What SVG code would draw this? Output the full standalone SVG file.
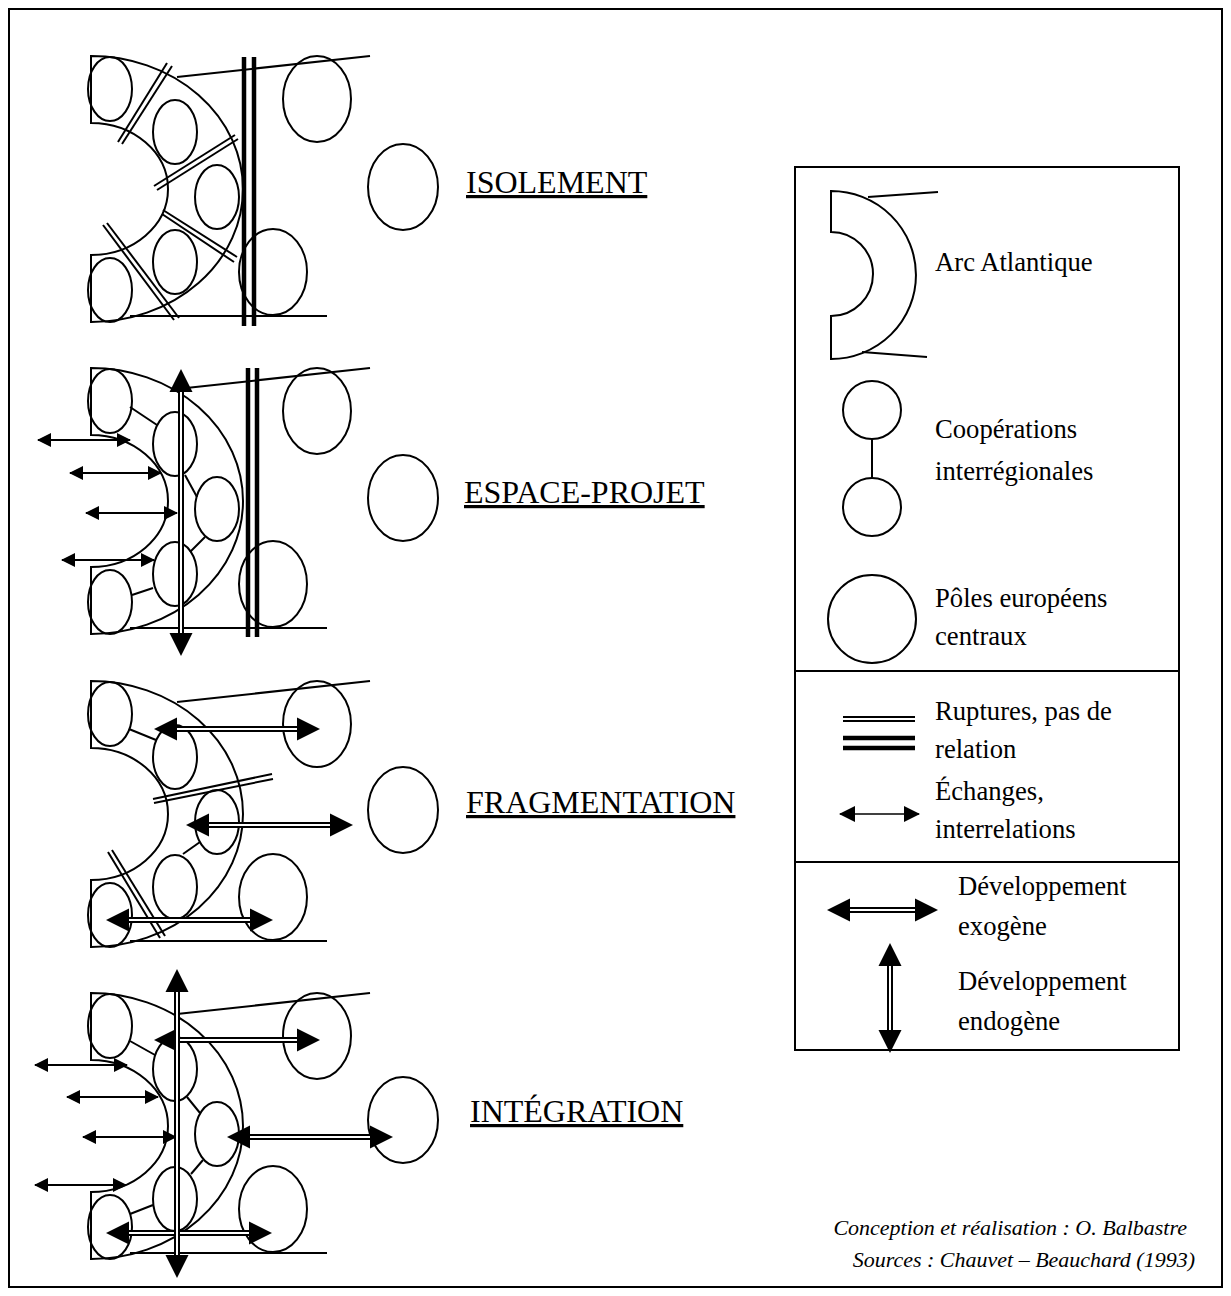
<svg xmlns="http://www.w3.org/2000/svg" width="1231" height="1296" viewBox="0 0 1231 1296">
<style>
.s{fill:none;stroke:#000;stroke-width:2}
.k{fill:none;stroke:#000;stroke-width:4.5}
.ex{fill:none;stroke:#000;stroke-width:2;marker-start:url(#sh);marker-end:url(#sh)}
.dv{fill:none;stroke:#000;stroke-width:6;marker-start:url(#bh);marker-end:url(#bh)}
.dw{fill:none;stroke:#fff;stroke-width:2}
text{font-family:'Liberation Serif','Times New Roman',serif;fill:#000}
.t{font-size:32px;text-decoration:underline}
.l{font-size:26.67px}
.c{font-size:22px;font-style:italic;text-anchor:end}
</style>
<defs>
<marker id="sh" markerUnits="userSpaceOnUse" markerWidth="14" markerHeight="14" refX="13" refY="7" orient="auto-start-reverse" overflow="visible"><path d="M0,0 L14,7 L0,14 Z" fill="#000"/></marker>
<marker id="shL" markerUnits="userSpaceOnUse" markerWidth="16" markerHeight="16" refX="15" refY="8" orient="auto-start-reverse" overflow="visible"><path d="M0,0 L16,8 L0,16 Z" fill="#000"/></marker>
<marker id="bh" markerUnits="userSpaceOnUse" markerWidth="23" markerHeight="23" refX="17" refY="11.5" orient="auto-start-reverse" overflow="visible"><path d="M0,0 L23,11.5 L0,23 Z" fill="#000"/></marker>
<path id="arc" class="s" d="M91,56 L91,123 A77,66 0 0 1 91,255 L91,322 A152,133 0 0 0 91,56 Z"/>
<ellipse id="e" class="s" cx="0" cy="0" rx="22" ry="32"/>
<ellipse id="b" class="s" cx="0" cy="0" rx="34" ry="43"/>
</defs>
<rect x="9" y="9" width="1213" height="1278" class="s"/>

<!-- Panel 1 : ISOLEMENT -->
<g id="panel1">
<g id="p1-arc"><use href="#arc"/><line class="s" x1="177" y1="77" x2="370" y2="56"/><line class="s" x1="130" y1="316" x2="327" y2="316"/></g>
<g id="p1-regions"><use href="#e" x="110" y="89"/><use href="#e" x="175" y="132"/><use href="#e" x="217" y="197"/><use href="#e" x="175" y="262"/><use href="#e" x="110" y="290"/></g>
<g id="p1-poles"><use href="#b" x="317" y="99"/><use href="#b" x="273" y="272"/><ellipse class="s" cx="403" cy="187" rx="35" ry="43"/></g>
<g id="p1-connectors">
<line class="k" x1="244" y1="57" x2="244" y2="326"/><line class="k" x1="254" y1="57" x2="254" y2="326"/>
<line class="s" x1="118" y1="142" x2="167" y2="63"/><line class="s" x1="122" y1="144" x2="172" y2="66"/>
<line class="s" x1="154" y1="186" x2="235" y2="135"/><line class="s" x1="157" y1="190" x2="238" y2="139"/>
<line class="s" x1="163" y1="210" x2="237" y2="257"/><line class="s" x1="162" y1="214" x2="234" y2="262"/>
<line class="s" x1="103" y1="225" x2="174" y2="320"/><line class="s" x1="107" y1="223" x2="179" y2="318"/>
</g>
<text class="t" x="466" y="193">ISOLEMENT</text>
</g>

<!-- Panel 2 : ESPACE-PROJET -->
<g id="panel2" transform="translate(0,312)">
<g id="p2-arc"><use href="#arc"/><line class="s" x1="177" y1="77" x2="370" y2="56"/><line class="s" x1="130" y1="316" x2="327" y2="316"/></g>
<g id="p2-regions"><use href="#e" x="110" y="89"/><use href="#e" x="175" y="132"/><use href="#e" x="217" y="197"/><use href="#e" x="175" y="262"/><use href="#e" x="110" y="290"/></g>
<g id="p2-poles"><use href="#b" x="317" y="99"/><use href="#b" x="273" y="272"/><ellipse class="s" cx="403" cy="186" rx="35" ry="43"/></g>
<g id="p2-connectors">
<line class="s" x1="130" y1="95" x2="157" y2="113"/><line class="s" x1="185" y1="163" x2="197" y2="185"/><line class="s" x1="205" y1="225" x2="190" y2="240"/><line class="s" x1="153" y1="276" x2="132" y2="283"/>
<line class="k" x1="248" y1="56" x2="248" y2="325"/><line class="k" x1="257" y1="56" x2="257" y2="325"/>
<line class="ex" x1="38" y1="128" x2="130" y2="128"/><line class="ex" x1="70" y1="161" x2="161" y2="161"/><line class="ex" x1="86" y1="201" x2="177" y2="201"/><line class="ex" x1="62" y1="248" x2="154" y2="248"/>
<line class="dv" x1="181" y1="63" x2="181" y2="338"/><line class="dw" x1="181" y1="80" x2="181" y2="321"/>
</g>
<text class="t" x="464" y="191">ESPACE-PROJET</text>
</g>

<!-- Panel 3 : FRAGMENTATION -->
<g id="panel3" transform="translate(0,625)">
<g id="p3-arc"><use href="#arc"/><line class="s" x1="177" y1="77" x2="370" y2="56"/><line class="s" x1="130" y1="316" x2="327" y2="316"/></g>
<g id="p3-regions"><use href="#e" x="110" y="89"/><use href="#e" x="175" y="132"/><use href="#e" x="217" y="197"/><use href="#e" x="175" y="262"/><use href="#e" x="110" y="290"/></g>
<g id="p3-poles"><use href="#b" x="317" y="99"/><use href="#b" x="273" y="272"/><ellipse class="s" cx="403" cy="185" rx="35" ry="43"/></g>
<g id="p3-connectors">
<line class="s" x1="129" y1="104" x2="156" y2="115"/><line class="s" x1="200" y1="217" x2="183" y2="229"/>
<line class="s" x1="153" y1="174" x2="272" y2="149"/><line class="s" x1="154" y1="178" x2="273" y2="154"/>
<line class="s" x1="108" y1="227" x2="160" y2="313"/><line class="s" x1="112" y1="225" x2="165" y2="311"/>
<line class="dv" x1="160" y1="104" x2="314" y2="104"/><line class="dw" x1="177" y1="104" x2="297" y2="104"/>
<line class="dv" x1="192" y1="200" x2="347" y2="200"/><line class="dw" x1="209" y1="200" x2="330" y2="200"/>
<line class="dv" x1="112" y1="295" x2="267" y2="295"/><line class="dw" x1="129" y1="295" x2="250" y2="295"/>
</g>
<text class="t" x="466" y="188">FRAGMENTATION</text>
</g>

<!-- Panel 4 : INTÉGRATION -->
<g id="panel4" transform="translate(0,937)">
<g id="p4-arc"><use href="#arc"/><line class="s" x1="177" y1="77" x2="370" y2="56"/><line class="s" x1="130" y1="316" x2="327" y2="316"/></g>
<g id="p4-regions"><use href="#e" x="110" y="89"/><use href="#e" x="175" y="132"/><use href="#e" x="217" y="197"/><use href="#e" x="175" y="262"/><use href="#e" x="110" y="290"/></g>
<g id="p4-poles"><use href="#b" x="317" y="99"/><use href="#b" x="273" y="272"/><ellipse class="s" cx="403" cy="183" rx="35" ry="43"/></g>
<g id="p4-connectors">
<line class="s" x1="130" y1="104" x2="155" y2="118"/><line class="s" x1="187" y1="160" x2="200" y2="176"/><line class="s" x1="203" y1="223" x2="191" y2="237"/><line class="s" x1="153" y1="268" x2="130" y2="277"/>
<line class="ex" x1="35" y1="128" x2="127" y2="128"/><line class="ex" x1="67" y1="160" x2="158" y2="160"/><line class="ex" x1="83" y1="200" x2="176" y2="200"/><line class="ex" x1="35" y1="248" x2="126" y2="248"/>
<line class="dv" x1="160" y1="103" x2="314" y2="103"/><line class="dw" x1="177" y1="103" x2="297" y2="103"/>
<line class="dv" x1="233" y1="200" x2="387" y2="200"/><line class="dw" x1="250" y1="200" x2="370" y2="200"/>
<line class="dv" x1="112" y1="296" x2="266" y2="296"/><line class="dw" x1="129" y1="296" x2="249" y2="296"/>
<line class="dv" x1="177" y1="38" x2="177" y2="335"/><line class="dw" x1="177" y1="55" x2="177" y2="318"/>
</g>
<text class="t" x="470" y="185">INTÉGRATION</text>
</g>

<!-- Legend -->
<g id="legend">
<rect class="s" x="795" y="167" width="384" height="883"/>
<line class="s" x1="795" y1="671" x2="1179" y2="671"/>
<line class="s" x1="795" y1="862" x2="1179" y2="862"/>
<g id="leg-arc">
<path class="s" d="M831,191 L831,232 A42,42 0 0 1 831,316 L831,359 A85,84 0 0 0 831,191 Z"/>
<line class="s" x1="868" y1="197" x2="938" y2="192"/><line class="s" x1="862" y1="352" x2="927" y2="357"/>
<text class="l" x="935" y="271">Arc Atlantique</text>
</g>
<g id="leg-coop">
<circle class="s" cx="872" cy="410" r="29"/><circle class="s" cx="872" cy="507" r="29"/>
<line class="s" x1="872" y1="439" x2="872" y2="478"/>
<text class="l" x="935" y="438">Coopérations</text>
<text class="l" x="935" y="480">interrégionales</text>
</g>
<g id="leg-poles">
<circle class="s" cx="872" cy="619" r="44"/>
<text class="l" x="935" y="607">Pôles européens</text>
<text class="l" x="935" y="645">centraux</text>
</g>
<g id="leg-rupt">
<line class="s" x1="843" y1="717" x2="915" y2="717"/><line class="s" x1="843" y1="721" x2="915" y2="721"/>
<line class="k" x1="843" y1="738" x2="915" y2="738"/><line class="k" x1="843" y1="748" x2="915" y2="748"/>
<text class="l" x="935" y="720">Ruptures, pas de</text>
<text class="l" x="935" y="758">relation</text>
</g>
<g id="leg-ech">
<line fill="none" stroke="#000" stroke-width="1.6" marker-start="url(#shL)" marker-end="url(#shL)" x1="840" y1="814" x2="919" y2="814"/>
<text class="l" x="935" y="800">Échanges,</text>
<text class="l" x="935" y="838">interrelations</text>
</g>
<g id="leg-exo">
<line class="dv" x1="833" y1="910" x2="932" y2="910"/><line class="dw" x1="850" y1="910" x2="915" y2="910"/>
<text class="l" x="958" y="895">Développement</text>
<text class="l" x="958" y="935">exogène</text>
</g>
<g id="leg-endo">
<line class="dv" x1="890" y1="949" x2="890" y2="1047"/><line class="dw" x1="890" y1="966" x2="890" y2="1030"/>
<text class="l" x="958" y="990">Développement</text>
<text class="l" x="958" y="1030">endogène</text>
</g>
</g>

<g id="credits">
<text class="c" x="1187" y="1235">Conception et réalisation : O. Balbastre</text>
<text class="c" x="1195" y="1267">Sources : Chauvet – Beauchard (1993)</text>
</g>
</svg>
